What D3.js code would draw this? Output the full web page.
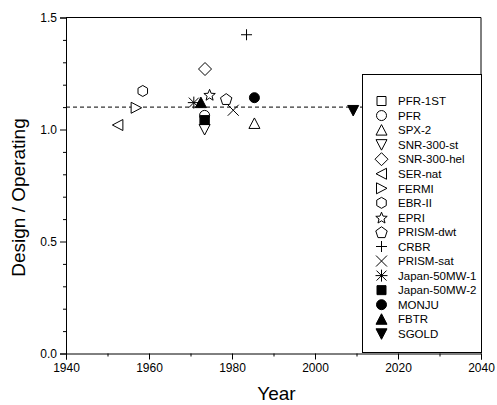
<!DOCTYPE html>
<html>
<head>
<meta charset="utf-8">
<script src="https://cdn.jsdelivr.net/npm/d3@7"></script>
<style>
  body { margin: 0; background: #fff; }
  text { font-family: "Liberation Sans", Arial, sans-serif; fill: #000; }
</style>
</head>
<body>
<svg id="chart" width="497" height="405"></svg>
<script>
// Reactor names, start year and design / operating ratio
var reactors = [
  'PFR-1ST', 'PFR', 'SPX-2', 'SNR-300-st', 'SNR-300-hel', 'SER-nat',
  'FERMI', 'EBR-II', 'EPRI', 'PRISM-dwt', 'CRBR', 'PRISM-sat',
  'Japan-50MW-1', 'Japan-50MW-2', 'MONJU', 'FBTR', 'SGOLD'
];
var years = [
  1973.4, 1973.4, 1985.4, 1973.4, 1973.5, 1952.5,
  1956.9, 1958.5, 1974.6, 1978.6, 1983.5, 1980.3,
  1970.8, 1973.4, 1985.4, 1972.5, 2009.2
];
var ratios = [
  1.045, 1.063, 1.027, 1.0, 1.27, 1.02,
  1.097, 1.172, 1.156, 1.137, 1.423, 1.086,
  1.12, 1.042, 1.142, 1.12, 1.085
];
var referenceRatio = 1.1;

var xTicks = [1940, 1960, 1980, 2000, 2020, 2040];
var yTicks = [0.0, 0.5, 1.0, 1.5];

// marker shape per series, in legend order (style only)
var symbols = [
  'square', 'circle', 'triUp', 'triDown', 'diamond', 'triLeft',
  'triRight', 'hexagon', 'star', 'pentagon', 'plus', 'cross',
  'asterisk', 'square', 'circle', 'triUp', 'triDown'
];
var filled = [
  false, false, false, false, false, false,
  false, false, false, false, false, false,
  false, true, true, true, true
];

(function() {
  var svg = d3.select('#chart');
  var plot = {left: 66, right: 481, top: 17.5, bottom: 353.5};

  var x = d3.scaleLinear().domain([1940, 2040]).range([plot.left, plot.right]);
  var y = d3.scaleLinear().domain([0, 1.5]).range([plot.bottom, plot.top]);

  /**
   * Path for a marker centred on 0,0
   */
  function symbolPath(type) {
    var p = d3.path(), i, a, r;
    switch (type) {
      case 'square':
        p.rect(-4.5, -4.5, 9, 9);
        break;
      case 'circle':
        p.arc(0, 0, 5, 0, 2 * Math.PI);
        break;
      case 'triUp':
        p.moveTo(0, -5.5); p.lineTo(5.5, 5); p.lineTo(-5.5, 5); p.closePath();
        break;
      case 'triDown':
        p.moveTo(0, 5.5); p.lineTo(5.5, -5); p.lineTo(-5.5, -5); p.closePath();
        break;
      case 'triLeft':
        p.moveTo(-5.5, 0); p.lineTo(5, -5.5); p.lineTo(5, 5.5); p.closePath();
        break;
      case 'triRight':
        p.moveTo(5.5, 0); p.lineTo(-5, -5.5); p.lineTo(-5, 5.5); p.closePath();
        break;
      case 'diamond':
        p.moveTo(0, -6.5); p.lineTo(6.5, 0); p.lineTo(0, 6.5); p.lineTo(-6.5, 0);
        p.closePath();
        break;
      case 'hexagon':
        for (i = 0; i < 6; i++) {
          a = Math.PI / 3 * i - Math.PI / 2;
          if (i === 0) p.moveTo(5.5 * Math.cos(a), 5.5 * Math.sin(a));
          else p.lineTo(5.5 * Math.cos(a), 5.5 * Math.sin(a));
        }
        p.closePath();
        break;
      case 'pentagon':
        for (i = 0; i < 5; i++) {
          a = 2 * Math.PI / 5 * i - Math.PI / 2;
          if (i === 0) p.moveTo(6 * Math.cos(a), 6 * Math.sin(a) + 0.8);
          else p.lineTo(6 * Math.cos(a), 6 * Math.sin(a) + 0.8);
        }
        p.closePath();
        break;
      case 'star':
        for (i = 0; i < 10; i++) {
          a = Math.PI / 5 * i - Math.PI / 2;
          r = i % 2 === 0 ? 6 : 2.6;
          if (i === 0) p.moveTo(r * Math.cos(a), r * Math.sin(a) + 0.8);
          else p.lineTo(r * Math.cos(a), r * Math.sin(a) + 0.8);
        }
        p.closePath();
        break;
      case 'plus':
        p.moveTo(-5.5, 0); p.lineTo(5.5, 0); p.moveTo(0, -5.5); p.lineTo(0, 5.5);
        break;
      case 'cross':
        p.moveTo(-5.5, -5.5); p.lineTo(5.5, 5.5);
        p.moveTo(-5.5, 5.5); p.lineTo(5.5, -5.5);
        break;
      case 'asterisk':
        p.moveTo(-5, -5); p.lineTo(5, 5); p.moveTo(-5, 5); p.lineTo(5, -5);
        p.moveTo(-6, 0); p.lineTo(6, 0); p.moveTo(0, -6); p.lineTo(0, 6);
        break;
    }
    return p.toString();
  }

  function fillFor(i) {
    if (filled[i]) return '#000';
    var t = symbols[i];
    return (t === 'plus' || t === 'cross' || t === 'asterisk') ? 'none' : '#fff';
  }

  // Frame (top and right)
  svg.append('path')
    .attr('d', 'M' + plot.left + ',' + plot.top + 'H' + plot.right +
      'V' + plot.bottom)
    .attr('fill', 'none')
    .attr('stroke', '#000');

  // Axes, with minor ticks drawn separately
  var xMinor = d3.range(1950, 2040, 20);
  var yMinor = [0.1, 0.2, 0.3, 0.4, 0.6, 0.7, 0.8, 0.9, 1.1, 1.2, 1.3, 1.4];

  var xAxis = svg.append('g')
    .attr('transform', 'translate(0,' + plot.bottom + ')')
    .call(d3.axisBottom(x).tickValues(xTicks).tickSize(6).tickPadding(4)
      .tickFormat(d3.format('d')));
  xAxis.selectAll('line.minor')
    .data(xMinor)
    .enter().append('line')
    .attr('class', 'minor')
    .attr('x1', function(d) { return x(d) + 0.5; })
    .attr('x2', function(d) { return x(d) + 0.5; })
    .attr('y1', 0).attr('y2', 3)
    .attr('stroke', '#000');

  var yAxis = svg.append('g')
    .attr('transform', 'translate(' + plot.left + ',0)')
    .call(d3.axisLeft(y).tickValues(yTicks).tickSize(6).tickPadding(3)
      .tickFormat(d3.format('.1f')));
  yAxis.selectAll('line.minor')
    .data(yMinor)
    .enter().append('line')
    .attr('class', 'minor')
    .attr('y1', function(d) { return y(d) + 0.5; })
    .attr('y2', function(d) { return y(d) + 0.5; })
    .attr('x1', 0).attr('x2', -3)
    .attr('stroke', '#000');

  svg.selectAll('.domain').attr('stroke', '#000');
  svg.selectAll('.tick line').attr('stroke', '#000');
  svg.selectAll('.tick text')
    .attr('font-size', 12)
    .attr('font-family', '"Liberation Sans", Arial, sans-serif')
    .attr('fill', '#000');

  // Reference line
  svg.append('line')
    .attr('x1', x(1940)).attr('x2', x(2040))
    .attr('y1', y(referenceRatio)).attr('y2', y(referenceRatio))
    .attr('stroke', '#000')
    .attr('stroke-dasharray', '4,3');

  // Points
  svg.append('g').selectAll('path')
    .data(reactors)
    .enter().append('path')
    .attr('transform', function(d, i) {
      return 'translate(' + x(years[i]) + ',' + y(ratios[i]) + ')';
    })
    .attr('d', function(d, i) { return symbolPath(symbols[i]); })
    .attr('fill', function(d, i) { return fillFor(i); })
    .attr('stroke', '#000')
    .attr('stroke-width', 1);

  // Legend
  var legend = svg.append('g');
  legend.append('rect')
    .attr('x', 362.5).attr('y', 74.5)
    .attr('width', 119).attr('height', 278)
    .attr('fill', '#fff')
    .attr('stroke', '#000');

  var rows = legend.selectAll('g.row')
    .data(reactors)
    .enter().append('g')
    .attr('class', 'row')
    .attr('transform', function(d, i) {
      return 'translate(381.5,' + (101 + i * 14.55) + ')';
    });
  rows.append('path')
    .attr('d', function(d, i) { return symbolPath(symbols[i]); })
    .attr('fill', function(d, i) { return fillFor(i); })
    .attr('stroke', '#000');
  rows.append('text')
    .attr('x', 16.5)
    .attr('y', 4.2)
    .attr('font-size', 11.5)
    .text(String);

  // Axis titles
  svg.append('text')
    .attr('x', (plot.left + plot.right) / 2 + 3)
    .attr('y', 400)
    .attr('text-anchor', 'middle')
    .attr('font-size', 19)
    .text('Year');

  svg.append('text')
    .attr('transform', 'translate(25,197.5) rotate(-90)')
    .attr('text-anchor', 'middle')
    .attr('font-size', 19)
    .text('Design / Operating');
})();
</script>
</body>
</html>
